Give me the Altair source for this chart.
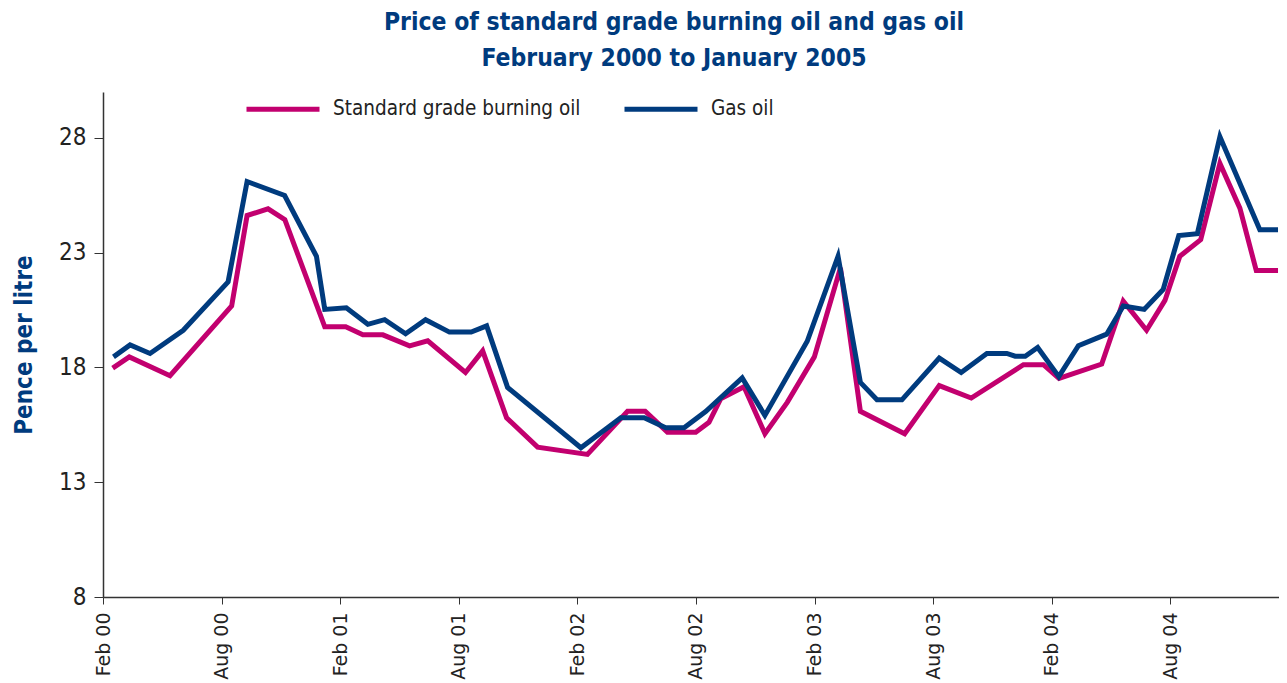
import json
import altair as alt
import pandas as pd

# ---- data (x = months after 1 Feb 2000) ----
series_names = ["Standard grade burning oil", "Gas oil"]
series_colors = ["#C2006F", "#003B7E"]

burn_month = [0.49, 1.33, 3.39, 6.51, 7.29, 8.35, 9.20, 11.22, 12.28, 13.15, 14.16,
              15.51, 16.43, 18.34, 19.21, 20.42, 21.99, 24.51, 26.54, 27.43, 28.56,
              29.99, 30.66, 31.25, 32.43, 33.49, 34.62, 35.99, 37.31, 38.32, 40.56,
              42.31, 43.93, 46.57, 47.58, 48.37, 50.53, 51.62, 52.80, 53.73, 54.48,
              55.54, 56.51, 57.52, 58.35, 59.45]
burn_price = [17.97, 18.46, 17.64, 20.68, 24.62, 24.91, 24.44, 19.77, 19.77, 19.42, 19.42,
              18.94, 19.16, 17.78, 18.72, 15.81, 14.53, 14.21, 16.09, 16.09, 15.18,
              15.18, 15.61, 16.63, 17.16, 15.11, 16.48, 18.46, 22.34, 16.09, 15.11,
              17.21, 16.67, 18.12, 18.12, 17.52, 18.15, 20.89, 19.62, 20.92, 22.84,
              23.57, 26.89, 24.94, 22.22, 22.22]

gas_month = [0.53, 1.37, 2.38, 4.06, 6.33, 7.29, 9.19, 10.80, 11.22, 12.31, 13.40,
             14.25, 15.31, 16.32, 17.53, 18.63, 19.41, 20.47, 24.18, 26.20, 27.38,
             28.47, 29.40, 30.49, 32.34, 33.49, 35.63, 37.19, 38.32, 39.16, 40.42,
             42.31, 43.42, 44.72, 45.73, 46.15, 46.66, 47.29, 48.36, 49.35, 50.78,
             51.62, 52.68, 53.64, 54.43, 55.37, 56.51, 58.53, 59.45]
gas_price = [18.46, 18.98, 18.61, 19.62, 21.73, 26.10, 25.49, 22.84, 20.53, 20.60, 19.88,
             20.08, 19.47, 20.08, 19.54, 19.54, 19.81, 17.13, 14.50, 15.81, 15.81,
             15.37, 15.37, 16.08, 17.54, 15.91, 19.14, 22.84, 17.35, 16.59, 16.59,
             18.41, 17.78, 18.61, 18.61, 18.49, 18.49, 18.87, 17.60, 18.95, 19.45,
             20.68, 20.53, 21.40, 23.75, 23.83, 28.05, 24.00, 24.00]

tick_months = [0, 6, 12, 18, 24, 30, 36, 42, 48, 54]
tick_labels = ["Feb 00", "Aug 00", "Feb 01", "Aug 01", "Feb 02", "Aug 02",
               "Feb 03", "Aug 03", "Feb 04", "Aug 04"]
y_ticks = [8, 13, 18, 23, 28]

rows = []
for m, p in zip(burn_month, burn_price):
    rows.append({"month": m, "price": p, "series": series_names[0]})
for m, p in zip(gas_month, gas_price):
    rows.append({"month": m, "price": p, "series": series_names[1]})
df = pd.DataFrame(rows)

label_expr = json.dumps(tick_labels).replace('"', "'") + "[round(datum.value / 6)]"

NARROW = "Liberation Sans Narrow, DejaVu Sans Condensed, Roboto, sans-serif"
BLUE = "#003B7E"

chart = alt.Chart(df).mark_line(strokeWidth=5, strokeJoin="miter").encode(
    x=alt.X("month:Q",
            scale=alt.Scale(domain=[0, 59.5], nice=False, zero=False),
            axis=alt.Axis(values=tick_months, labelExpr=label_expr, labelAngle=-90,
                          labelAlign="right", labelBaseline="middle",
                          labelFont="DejaVu Sans", labelFontSize=19, labelColor="#222222",
                          labelPadding=8, tickSize=7, tickColor="#333333",
                          domainColor="#333333", domainWidth=1.5, grid=False,
                          title=None)),
    y=alt.Y("price:Q",
            scale=alt.Scale(domain=[8, 30], nice=False, zero=False),
            axis=alt.Axis(values=y_ticks, labelFont=NARROW, labelFontSize=24,
                          labelColor="#222222", labelPadding=8, tickSize=9,
                          tickColor="#333333", domainColor="#333333", domainWidth=1.5,
                          grid=False, title="Pence per litre", titleFont=NARROW,
                          titleFontSize=24, titleFontWeight="bold", titleColor=BLUE,
                          titlePadding=22)),
    color=alt.Color("series:N",
                    scale=alt.Scale(domain=series_names, range=series_colors),
                    legend=alt.Legend(orient="none", direction="horizontal",
                                      legendX=141, legendY=-22, title=None,
                                      symbolType="stroke", symbolSize=5329,
                                      symbolStrokeWidth=5, labelFont=NARROW,
                                      labelFontSize=20.5, labelColor="#222222",
                                      labelLimit=400,
                                      labelOffset=11, columnPadding=33, padding=0)),
).properties(
    width=1176,
    height=505,
    autosize=alt.AutoSizeParams(type="none"),
    padding={"left": 95, "top": 84, "right": 0, "bottom": 86},
    title=alt.Title(["Price of standard grade burning oil and gas oil",
                     "February 2000 to January 2005"],
                    font=NARROW, fontSize=24.5, fontWeight="bold", color=BLUE,
                    anchor="middle", dx=-17, offset=-1, lineHeight=36),
).configure_view(stroke=None)

chart.save("out.html", embed_options={"renderer": "svg", "actions": False})
